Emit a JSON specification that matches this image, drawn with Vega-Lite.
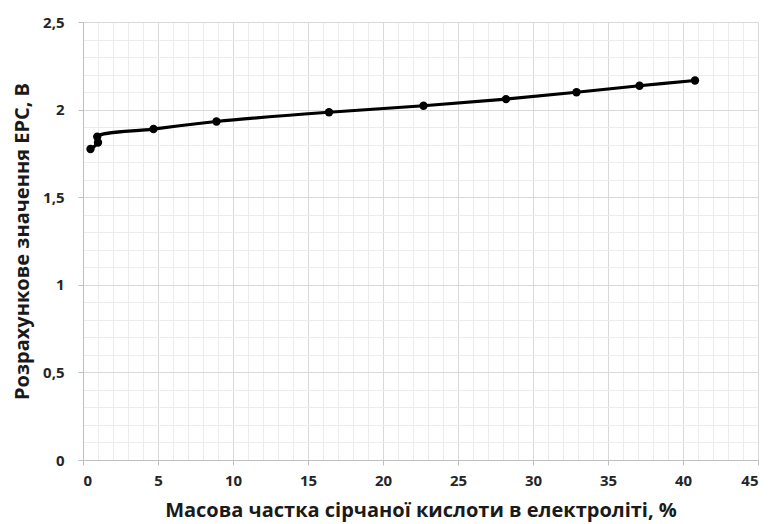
{
  "$schema": "https://vega.github.io/schema/vega-lite/v6.json",
  "width": 675,
  "height": 438,
  "autosize": "none",
  "padding": {"left": 83, "top": 22, "right": 12, "bottom": 64},
  "background": "white",
  "config": {
    "view": {"stroke": null},
    "axis": {"labelFont": "Open Sans", "titleFont": "Open Sans"}
  },
  "data": {
    "values": [
      {"i": 1, "x": 0.5, "y": 1.775},
      {"i": 2, "x": 1.0, "y": 1.812},
      {"i": 3, "x": 0.95, "y": 1.845},
      {"i": 4, "x": 4.7, "y": 1.889},
      {"i": 5, "x": 8.9, "y": 1.932},
      {"i": 6, "x": 16.4, "y": 1.985},
      {"i": 7, "x": 22.7, "y": 2.022},
      {"i": 8, "x": 28.2, "y": 2.06},
      {"i": 9, "x": 32.9, "y": 2.099},
      {"i": 10, "x": 37.1, "y": 2.136},
      {"i": 11, "x": 40.8, "y": 2.166}
    ]
  },
  "resolve": {"axis": {"x": "independent", "y": "independent"}},
  "layer": [
    {
      "mark": {"type": "point", "opacity": 0},
      "encoding": {
        "x": {"field": "x", "type": "quantitative", "scale": {"domain": [0, 45], "nice": false},
          "axis": {"orient": "top", "values": [0,1,2,3,4,5,6,7,8,9,10,11,12,13,14,15,16,17,18,19,20,21,22,23,24,25,26,27,28,29,30,31,32,33,34,35,36,37,38,39,40,41,42,43,44,45],
            "grid": true, "gridColor": "#ececec", "gridWidth": 1, "labels": false, "ticks": false, "domain": false, "title": null}},
        "y": {"field": "y", "type": "quantitative", "scale": {"domain": [0, 2.5], "nice": false},
          "axis": {"orient": "right", "values": [0,0.1,0.2,0.3,0.4,0.5,0.6,0.7,0.8,0.9,1,1.1,1.2,1.3,1.4,1.5,1.6,1.7,1.8,1.9,2,2.1,2.2,2.3,2.4,2.5],
            "grid": true, "gridColor": "#ececec", "gridWidth": 1, "labels": false, "ticks": false, "domain": false, "title": null}}
      }
    },
    {
      "mark": {"type": "point", "opacity": 0},
      "encoding": {
        "x": {"field": "x", "type": "quantitative", "scale": {"domain": [0, 45], "nice": false},
          "axis": {"orient": "bottom", "values": [0,5,10,15,20,25,30,35,40,45], "grid": true, "gridColor": "#d9d9d9",
            "domainColor": "#bfbfbf", "tickColor": "#bfbfbf", "tickSize": 5, "labelPadding": 8,
            "labelFontSize": 15, "labelFontWeight": "bold", "labelColor": "#262626",
            "title": "Масова частка сірчаної кислоти в електроліті, %", "titleFontSize": 20, "titleFontWeight": "bold",
            "titleColor": "#1a1a1a", "titlePadding": 12}},
        "y": {"field": "y", "type": "quantitative", "scale": {"domain": [0, 2.5], "nice": false},
          "axis": {"orient": "left", "values": [0,0.5,1,1.5,2,2.5], "grid": true, "gridColor": "#d9d9d9",
            "domainColor": "#bfbfbf", "tickColor": "#bfbfbf", "tickSize": 5, "labelPadding": 14,
            "labelExpr": "replace(format(datum.value, '~g'), '.', ',')",
            "labelFontSize": 15, "labelFontWeight": "bold", "labelColor": "#262626",
            "title": "Розрахункове значення ЕРС, В", "titleFontSize": 20, "titleFontWeight": "bold",
            "titleColor": "#1a1a1a", "titlePadding": 10}}
      }
    },
    {
      "mark": {"type": "line", "color": "black", "strokeWidth": 3.2, "interpolate": "catmull-rom"},
      "encoding": {
        "x": {"field": "x", "type": "quantitative", "axis": null},
        "y": {"field": "y", "type": "quantitative", "axis": null},
        "order": {"field": "i"}
      }
    },
    {
      "mark": {"type": "point", "filled": true, "color": "black", "opacity": 1, "size": 70},
      "encoding": {
        "x": {"field": "x", "type": "quantitative", "axis": null},
        "y": {"field": "y", "type": "quantitative", "axis": null}
      }
    }
  ]
}
